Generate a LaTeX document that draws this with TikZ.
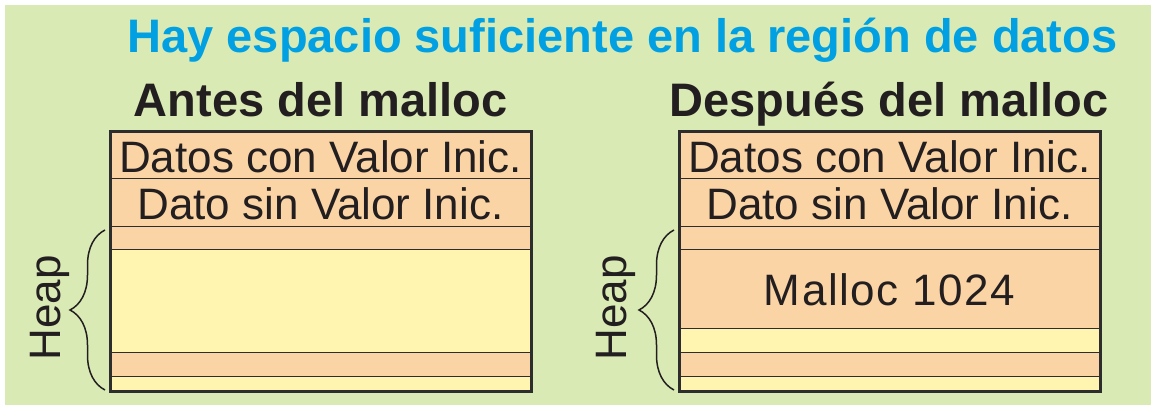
\documentclass[tikz,border=0pt]{standalone}
\usepackage{fontspec}
\setmainfont{Liberation Sans}
\newfontfamily\mallocfont[LetterSpace=3.5]{Liberation Sans}
\usepackage{tikz}
\usetikzlibrary{positioning,decorations.pathreplacing}

\definecolor{fondo}{RGB}{217,234,181}
\definecolor{naranja}{RGB}{251,212,165}
\definecolor{amarillo}{RGB}{255,245,177}
\definecolor{azul}{RGB}{0,160,227}
\definecolor{texto}{RGB}{35,31,32}
\definecolor{linea}{RGB}{45,45,45}

\begin{document}
\begin{tikzpicture}[x=0.5pt,y=-0.5pt,node distance=0pt,
	fila/.style={draw=linea,line width=0.5pt,minimum width=210.5pt,inner sep=0pt,outer sep=0pt,font=\fontsize{22}{26}\selectfont,text=texto},
	naranja/.style={fila,fill=naranja},
	amarillo/.style={fila,fill=amarillo},
	rotulo/.style={text height=17pt},
	marco/.style={draw=linea,line width=1.5pt},
	llave/.style={decorate,decoration={brace,amplitude=17.5pt},line width=0.75pt,draw=texto},
	heap/.style={rotate=90,font=\fontsize{22}{26}\selectfont,text=texto},
	titulo/.style={font=\fontsize{23.5}{28}\selectfont\bfseries,text=texto,anchor=base}]
	
	\useasboundingbox (0,0) rectangle (1151,405);
	\fill[fondo] (5,5) rectangle (1151,405);
	
	\node[titulo, style={text=azul}] (tit) at (622.5,53) {Hay espacio suficiente en la región de datos};
	\node[titulo] (antes) at (320.5,117) {Antes del malloc};
	\node[titulo] (despues) at (889,117) {Después del malloc};
	
	% antes
	\node[naranja, rotulo, minimum height=23.5pt, anchor=north west] (a1) at (110,132) {Datos con Valor Inic.};
	\node[naranja, rotulo, minimum height=24pt] (a2) [below=of a1] {Dato sin Valor Inic.};
	\node[naranja, minimum height=11.5pt] (a3) [below=of a2] {};
	\node[amarillo, minimum height=51.5pt] (a4) [below=of a3] {};
	\node[naranja, minimum height=12pt] (a5) [below=of a4] {};
	\node[amarillo, minimum height=7.5pt] (a6) [below=of a5] {};
	\draw[marco] (a1.north west) rectangle (a6.south east);
	
	% despues
	\node[naranja, rotulo, minimum height=23.5pt, anchor=north west] (b1) at (679,132) {Datos con Valor Inic.};
	\node[naranja, rotulo, minimum height=24pt] (b2) [below=of b1] {Dato sin Valor Inic.};
	\node[naranja, minimum height=11.5pt] (b3) [below=of b2] {};
	\node[naranja, minimum height=39.5pt] (b4) [below=of b3] {\mallocfont Malloc 1024};
	\node[amarillo, minimum height=12pt] (b5) [below=of b4] {};
	\node[naranja, minimum height=12pt] (b6) [below=of b5] {};
	\node[amarillo, minimum height=7.5pt] (b7) [below=of b6] {};
	\draw[marco] (b1.north west) rectangle (b7.south east);
	
	\node[heap] (heapA) at (50,308) {Heap};
	\node[heap] (heapB) at (615.5,308) {Heap};
	
	\draw[llave] ([xshift=-2.5pt,yshift=1pt]a6.south west) -- ([xshift=-2.5pt,yshift=-1.5pt]a3.north west);
	\draw[llave] ([xshift=-2.5pt,yshift=1pt]b7.south west) -- ([xshift=-2.5pt,yshift=-1.5pt]b3.north west);
	
\end{tikzpicture}
\end{document}
